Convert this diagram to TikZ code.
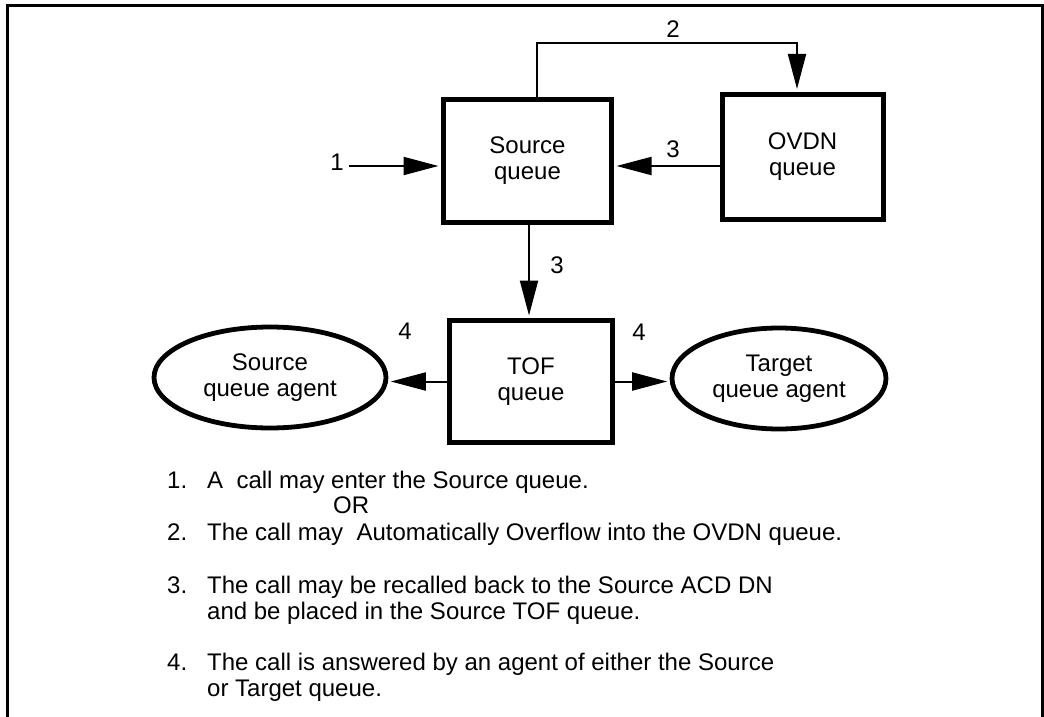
\documentclass[tikz,border=0pt]{standalone}
\usepackage{fontspec}
\setmainfont{Liberation Sans}
\usetikzlibrary{arrows.meta,shapes.geometric}

\tikzset{
  txt/.style={font=\fontsize{24}{26}\selectfont, inner sep=0pt},
  qbox/.style={txt, draw, line width=5pt, align=center},
  agent/.style={txt, draw, ellipse, line width=4.8pt, align=center},
  arr/.style={line width=2pt, -{Triangle[length=35pt,width=18pt]}},
  item/.style={txt, anchor=base west},
}

\begin{document}
\begin{tikzpicture}[x=1pt,y=-1pt]
        \useasboundingbox (0,0) rectangle (1044,717);
        \draw[line width=2.7pt] (7.3,730) |- (1042.7,5.3) -- (1042.7,730);

        \node[qbox, minimum width=168pt, minimum height=123pt] (src) at (527.5,161) {Source\\queue};
        \node[qbox, minimum width=161pt, minimum height=125pt] (ovdn) at (802.5,156.5) {OVDN\\queue};
        \node[qbox, minimum width=163pt, minimum height=122pt] (tof) at (531,381.5) {TOF\\queue};
        \node[agent, minimum width=232pt, minimum height=101pt] (sqa) at (270,377.5) {Source\\queue agent};
        \node[agent, minimum width=214pt, minimum height=101pt] (tqa) at (779,378.5) {Target\\queue agent};

        \node[txt] (lab1) at (337,162) {1};
        \node[txt] (lab2) at (673,29.5) {2};
        \node[txt] (lab3a) at (673,149) {3};
        \node[txt] (lab3b) at (557,265) {3};
        \node[txt] (lab4a) at (405,331) {4};
        \node[txt] (lab4b) at (639,332) {4};

        \coordinate (in1) at (349,166);
        \coordinate (m3) at (665,166);
        \draw[arr, shorten >=2.5pt] (in1) -- (in1 -| src.west);
        \draw[arr, shorten >=2.5pt] ([xshift=9.5pt]src.north) -- ++(0,-53.5) -| ([xshift=-5.5pt]ovdn.north);
        \draw[arr, shorten >=2.5pt] (m3 -| ovdn.west) -- (m3 -| src.east);
        \draw[arr, shorten >=2.5pt] ([xshift=1.5pt]src.south) -- ([xshift=1.5pt]src.south |- tof.north);
        \draw[arr, shorten >=2.4pt] (tof.west) -- (tof.west -| sqa.east);
        \draw[arr, shorten >=2.4pt] (tof.east) -- (tof.east -| tqa.west);

        \node[item] (n1) at (167,488) {1.};
        \node[item] (t1) at (207,488) {A\ \ call may enter the Source queue.};
        \node[item] (alt) at (333,513) {OR};
        \node[item] (n2) at (167,540) {2.};
        \node[item] (t2) at (207,540) {The call may\ \ Automatically Overflow into the OVDN queue.};
        \node[item] (n3) at (167,593) {3.};
        \node[item] (t3) at (207,593) {The call may be recalled back to the Source ACD DN};
        \node[item] (t3b) at (207,619) {and be placed in the Source TOF queue.};
        \node[item] (n4) at (167,670) {4.};
        \node[item] (t4) at (207,670) {The call is answered by an agent of either the Source};
        \node[item] (t4b) at (207,696) {or Target queue.};
\end{tikzpicture}
\end{document}
